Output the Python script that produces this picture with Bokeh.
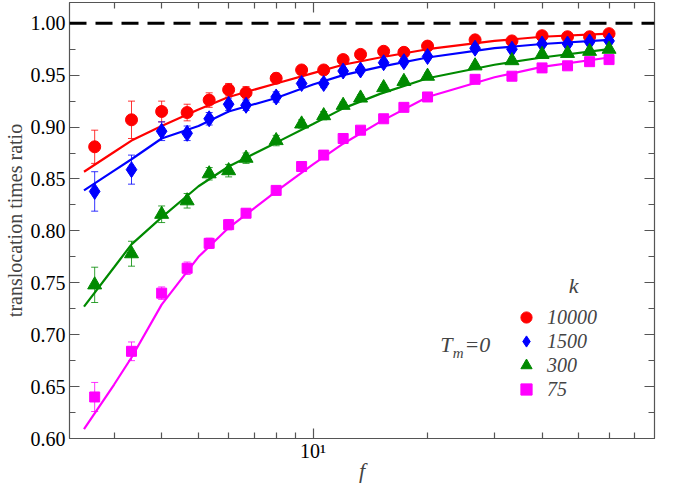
import numpy as np
from bokeh.plotting import figure
from bokeh.models import (ColumnDataSource, Whisker, TeeHead, FixedTicker, LogAxis, LinearAxis,
                          Span, Legend, LegendItem, Label, CustomJSTickFormatter,
                          NumeralTickFormatter, Range1d)
from bokeh.embed import file_html
from bokeh.resources import INLINE

# ---------------- data ----------------
f_vals = [2.667, 3.333, 4.0, 4.667, 5.333, 6.0, 6.667, 8.0, 9.333, 10.667, 12.0,
          13.333, 15.333, 17.333, 20.0, 26.667, 33.333, 40.0, 46.667, 53.333, 60.0]

k_labels = ["10000", "1500", "300", "75"]

y_k10000 = [0.881, 0.907, 0.915, 0.914, 0.926, 0.936, 0.933, 0.947, 0.955, 0.955, 0.965,
            0.970, 0.973, 0.972, 0.978, 0.984, 0.983, 0.988, 0.987, 0.987, 0.990]
e_k10000 = [0.016, 0.018, 0.010, 0.008, 0.007, 0.006, 0.006, 0.005, 0.004, 0.004, 0.003,
            0.003, 0.003, 0.003, 0.003, 0.002, 0.002, 0.002, 0.002, 0.002, 0.002]

y_k1500 = [0.838, 0.859, 0.896, 0.894, 0.908, 0.922, 0.921, 0.929, 0.942, 0.942, 0.954,
           0.955, 0.962, 0.963, 0.968, 0.976, 0.975, 0.980, 0.980, 0.982, 0.983]
e_k1500 = [0.019, 0.014, 0.009, 0.007, 0.006, 0.006, 0.005, 0.005, 0.004, 0.004, 0.003,
           0.003, 0.003, 0.003, 0.003, 0.002, 0.002, 0.002, 0.002, 0.002, 0.002]

y_k300 = [0.748, 0.778, 0.816, 0.829, 0.855, 0.858, 0.870, 0.887, 0.903, 0.911, 0.921,
          0.928, 0.938, 0.944, 0.949, 0.959, 0.964, 0.970, 0.971, 0.973, 0.975]
e_k300 = [0.017, 0.012, 0.008, 0.007, 0.006, 0.006, 0.005, 0.005, 0.004, 0.004, 0.003,
          0.003, 0.003, 0.003, 0.003, 0.002, 0.002, 0.002, 0.002, 0.002, 0.002]

y_k75 = [0.640, 0.684, 0.740, 0.764, 0.788, 0.806, 0.817, 0.839, 0.862, 0.873, 0.889,
         0.897, 0.908, 0.919, 0.929, 0.946, 0.949, 0.957, 0.959, 0.963, 0.965]
e_k75 = [0.014, 0.009, 0.006, 0.006, 0.005, 0.005, 0.004, 0.004, 0.004, 0.003, 0.003,
         0.003, 0.003, 0.003, 0.003, 0.002, 0.002, 0.002, 0.002, 0.002, 0.002]

# fitted curves
fit_f = [2.5, 3.0, 3.333, 4.0, 5.0, 6.0, 8.0, 10.0, 12.0, 15.0, 20.0, 30.0, 40.0, 60.0]
fit_k10000 = [0.857, 0.876, 0.887, 0.901, 0.917, 0.929, 0.942, 0.952, 0.960, 0.967, 0.975, 0.983, 0.987, 0.990]
fit_k1500 = [0.839, 0.858, 0.869, 0.889, 0.901, 0.915, 0.928, 0.941, 0.950, 0.958, 0.967, 0.976, 0.980, 0.984]
fit_k300 = [0.727, 0.765, 0.787, 0.813, 0.843, 0.862, 0.885, 0.903, 0.918, 0.932, 0.947, 0.960, 0.967, 0.975]
fit_k75 = [0.609, 0.652, 0.678, 0.729, 0.775, 0.803, 0.838, 0.864, 0.884, 0.905, 0.929, 0.948, 0.958, 0.967]

y_ticks = [0.60, 0.65, 0.70, 0.75, 0.80, 0.85, 0.90, 0.95, 1.00]
y_minor = [0.625, 0.675, 0.725, 0.775, 0.825, 0.875, 0.925, 0.975]
x_ticks = [10]
x_minor = [3, 4, 5, 6, 7, 8, 9, 20, 30, 40, 50, 60, 70]

# ---------------- figure ----------------
FONT = "Liberation Serif"
AXIS_COL = "#555555"
X_LO, X_HI = 2.29, 79
Y_LO, Y_HI = 0.60, 1.02

p = figure(width=659, height=485, x_axis_type="log",
           x_range=Range1d(X_LO, X_HI), y_range=Range1d(Y_LO, Y_HI),
           output_backend="svg", toolbar_location=None,
           min_border_left=3, min_border_right=5, min_border_top=2, min_border_bottom=0)
p.xgrid.visible = False
p.ygrid.visible = False
p.outline_line_color = AXIS_COL
p.background_fill_color = "white"
p.border_fill_color = "white"

xt = FixedTicker(ticks=x_ticks, minor_ticks=x_minor)
yt = FixedTicker(ticks=y_ticks, minor_ticks=y_minor)


def style_axis(ax, labels=True):
    ax.axis_line_color = AXIS_COL
    ax.axis_line_width = 1.2
    ax.major_tick_line_color = AXIS_COL
    ax.minor_tick_line_color = AXIS_COL
    ax.major_tick_line_width = 1.2
    ax.minor_tick_line_width = 1.2
    ax.major_tick_in = 10
    ax.major_tick_out = 0
    ax.minor_tick_in = 6
    ax.minor_tick_out = 0
    ax.major_label_text_font = FONT
    ax.major_label_text_color = "black"
    if labels:
        ax.major_label_text_font_size = "20px"
    else:
        ax.major_label_text_font_size = "1px"
        ax.formatter = CustomJSTickFormatter(code="return ''")
        ax.major_label_standoff = 0


xa = p.xaxis[0]
xa.ticker = xt
xa.major_label_overrides = {10: "10\u00b9"}
style_axis(xa)
xa.major_label_standoff = 1
xa.axis_label = "f"
xa.axis_label_text_font = FONT
xa.axis_label_text_font_style = "italic"
xa.axis_label_text_font_size = "22px"
xa.axis_label_standoff = -7

ya = p.yaxis[0]
ya.ticker = yt
ya.formatter = NumeralTickFormatter(format="0.00")
style_axis(ya)
ya.major_label_standoff = 4
ya.axis_label = "translocation times ratio"
ya.axis_label_text_font = FONT
ya.axis_label_text_font_style = "normal"
ya.axis_label_text_font_size = "20px"
ya.axis_label_standoff = 2

top = LogAxis(ticker=xt)
style_axis(top, labels=False)
p.add_layout(top, "above")
right = LinearAxis(ticker=yt)
style_axis(right, labels=False)
p.add_layout(right, "right")

# dashed reference line at 1
p.add_layout(Span(location=1.0, dimension="width", line_color="black",
                  line_width=3, line_dash="17 9"))

series = [
    (k_labels[0], y_k10000, e_k10000, fit_k10000, "#ff0000", "circle", 12),
    (k_labels[1], y_k1500, e_k1500, fit_k1500, "#0000ff", "diamond", 16),
    (k_labels[2], y_k300, e_k300, fit_k300, "#008a00", "triangle", 14),
    (k_labels[3], y_k75, e_k75, fit_k75, "#ff00ff", "square", 10),
]

# one single-row legend per series, stacked with a tight row pitch
legend_x = 443
legend_rows_y = [107, 83, 59, 35]

for (lab, ys, es, fit, col, mk, sz), ly in zip(series, legend_rows_y):
    ys_a = np.array(ys)
    es_a = np.array(es)
    src = ColumnDataSource(dict(x=f_vals, y=ys, upper=ys_a + es_a, lower=ys_a - es_a))
    p.line(fit_f, fit, line_color=col, line_width=2.2)
    w = Whisker(source=src, base="x", upper="upper", lower="lower",
                line_color=col, line_width=1, line_alpha=0.8, level="underlay",
                upper_head=TeeHead(size=7, line_color=col, line_width=1, line_alpha=0.8),
                lower_head=TeeHead(size=7, line_color=col, line_width=1, line_alpha=0.8))
    p.add_layout(w)
    r = p.scatter("x", "y", source=src, marker=mk, size=sz,
                  fill_color=col, line_color=col)
    lg = Legend(items=[LegendItem(label=lab, renderers=[r])], location=(legend_x, ly),
                glyph_width=28, glyph_height=28, label_standoff=7, spacing=0,
                padding=0, margin=0, border_line_color=None, background_fill_alpha=0,
                label_text_font=FONT, label_text_font_style="italic",
                label_text_font_size="20px", label_height=20)
    p.add_layout(lg, "center")

p.add_layout(Label(x=47.0, y=0.747, text="k", text_font=FONT, text_font_style="italic",
                   text_font_size="22px", text_baseline="alphabetic"))
p.add_layout(Label(x=21.6, y=0.6905, text="T", text_font=FONT, text_font_style="italic",
                   text_font_size="22px", text_baseline="alphabetic"))
p.add_layout(Label(x=23.3, y=0.682, text="m", text_font=FONT, text_font_style="italic",
                   text_font_size="15px", text_baseline="alphabetic"))
p.add_layout(Label(x=25.0, y=0.6905, text="=0", text_font=FONT, text_font_style="italic",
                   text_font_size="22px", text_baseline="alphabetic"))

open("out.html", "w").write(file_html(p, INLINE))
